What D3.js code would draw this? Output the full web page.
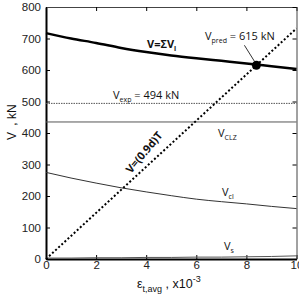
<!DOCTYPE html>
<html>
<head>
<meta charset="utf-8" />
<script src="https://cdn.jsdelivr.net/npm/d3@7"></script>
<style>
  html, body { margin: 0; padding: 0; background: #fff; }
  text { font-family: "Liberation Sans", Arial, sans-serif; }
  .lbl { font-family: "Open Sans", "Liberation Sans", sans-serif; }
</style>
</head>
<body>
<script>
var width = 299, height = 296;
var margin = {top: 7, right: 2, bottom: 37, left: 46};

// strain (x10^-3) and shear components (kN)
var strain = [0, 1, 2, 3, 4, 5, 6, 7, 8, 9, 10];
var vTotal = [717, 700, 686, 670, 657, 646, 637, 629, 621, 612, 603];
var vCi    = [275, 257, 241, 226, 213, 201, 190, 182, 175, 167, 160];
var vS     = [3, 3, 4, 4, 5, 5, 6, 6, 7, 8, 10];
var vClz = 435;
var vExp = 494;
var vPred = 615, ePred = 8.4;
var tensionEnd = [[0, 0], [10, 732]];
var xTicks = [0, 2, 4, 6, 8, 10];
var yTicks = [0, 100, 200, 300, 400, 500, 600, 700, 800];

var svg = d3.select('body').append('svg').attr('width', width).attr('height', height);
var x = d3.scaleLinear().domain([0, 10]).range([margin.left, width - margin.right - 0.5]);
var y = d3.scaleLinear().domain([0, 800]).range([height - margin.bottom, margin.top]);

var g = svg.append('g');

// axes, ticks inside
g.append('g').attr('transform', 'translate(0,' + y(0) + ')')
  .call(d3.axisBottom(x).tickValues(xTicks).tickSizeInner(-4).tickSizeOuter(0).tickPadding(2))
  .call(a => a.select('.domain').attr('stroke-width', 2));
g.append('g').attr('transform', 'translate(' + x(0) + ',0)')
  .call(d3.axisLeft(y).tickValues(yTicks).tickSizeInner(-4).tickSizeOuter(0).tickPadding(5))
  .call(a => a.select('.domain').attr('stroke-width', 2));
g.append('g').attr('transform', 'translate(0,' + y(800) + ')')
  .call(d3.axisTop(x).tickValues(xTicks).tickSizeInner(-4).tickSizeOuter(0).tickFormat(''))
  .call(a => a.select('.domain').attr('stroke', '#444'));
g.append('g').attr('transform', 'translate(' + x(10) + ',0)')
  .call(d3.axisRight(y).tickValues(yTicks).tickSizeInner(-4).tickSizeOuter(0).tickFormat(''))
  .call(a => a.select('.domain').attr('stroke', '#444'));
g.selectAll('.tick text').attr('font-size', 11.5).attr('fill', '#222');

var line = d3.line().x(d => x(d[0])).y(d => y(d[1])).curve(d3.curveMonotoneX);

// horizontal references
g.append('line').attr('x1', x(0)).attr('x2', x(10)).attr('y1', y(vClz)).attr('y2', y(vClz))
  .attr('stroke', '#555').attr('stroke-width', 1);
g.append('line').attr('x1', x(0)).attr('x2', x(10)).attr('y1', y(vExp)).attr('y2', y(vExp))
  .attr('stroke', '#555').attr('stroke-width', 1).attr('stroke-dasharray', '1.5,1');

g.append('path').datum(strain.map((s, i) => [s, vCi[i]])).attr('d', line)
  .attr('fill', 'none').attr('stroke', '#333').attr('stroke-width', 1);
g.append('path').datum(strain.map((s, i) => [s, vS[i]])).attr('d', line)
  .attr('fill', 'none').attr('stroke', '#555').attr('stroke-width', 1);
g.append('path').datum(strain.map((s, i) => [s, vTotal[i]])).attr('d', line)
  .attr('fill', 'none').attr('stroke', '#000').attr('stroke-width', 2.5);
g.append('path').datum(tensionEnd).attr('d', d3.line().x(d => x(d[0])).y(d => y(d[1])))
  .attr('fill', 'none').attr('stroke', '#000').attr('stroke-width', 2).attr('stroke-dasharray', '2,2.2');

// predicted point
g.append('line').attr('x1', x(ePred) - 12).attr('y1', y(vPred) - 20).attr('x2', x(ePred) - 2).attr('y2', y(vPred) - 4)
  .attr('stroke', '#333').attr('stroke-width', 1);
g.append('circle').attr('cx', x(ePred)).attr('cy', y(vPred)).attr('r', 4.5).attr('fill', '#000');

// labels
function lab(px, py, main, sub, rest, opts) {
  opts = opts || {};
  var t = g.append('text').attr('class', 'lbl').attr('x', px).attr('y', py)
    .attr('font-size', opts.size || 11).attr('fill', '#111');
  if (opts.bold) t.attr('font-weight', 'bold');
  if (opts.rotate) t.attr('transform', 'rotate(' + opts.rotate + ',' + px + ',' + py + ')');
  t.append('tspan').text(main);
  if (sub) t.append('tspan').attr('font-size', 7).attr('dy', 2.5).text(sub);
  if (rest) t.append('tspan').attr('dy', sub ? -2.5 : 0).text(rest);
  return t;
}
lab(147, 48, 'V=ΣV', 'i', null, {bold: true});
lab(205, 40, 'V', 'pred', ' = 615 kN');
lab(113, 99, 'V', 'exp', ' = 494 kN');
lab(218, 137, 'V', 'CLZ', null);
lab(222, 196, 'V', 'cl', null);
lab(224, 250, 'V', 's', null);
lab(131, 174, 'V=(0.9d)T', null, null, {bold: true, rotate: -50});

// axis titles
var yl = svg.append('text').attr('transform', 'translate(16,' + 140 + ') rotate(-90)')
  .attr('font-size', 12).attr('fill', '#111');
yl.append('tspan').text('V');
yl.append('tspan').text(' , kN').attr('dx', 3);

var xl = svg.append('text').attr('x', 137).attr('y', 288).attr('font-size', 12.5).attr('fill', '#111');
xl.append('tspan').text('ε');
xl.append('tspan').attr('font-size', 9).attr('dy', 4).text('t,avg');
xl.append('tspan').attr('dy', -4).text(' ,  x10');
xl.append('tspan').attr('font-size', 9).attr('dy', -6).text('-3');
</script>
</body>
</html>
